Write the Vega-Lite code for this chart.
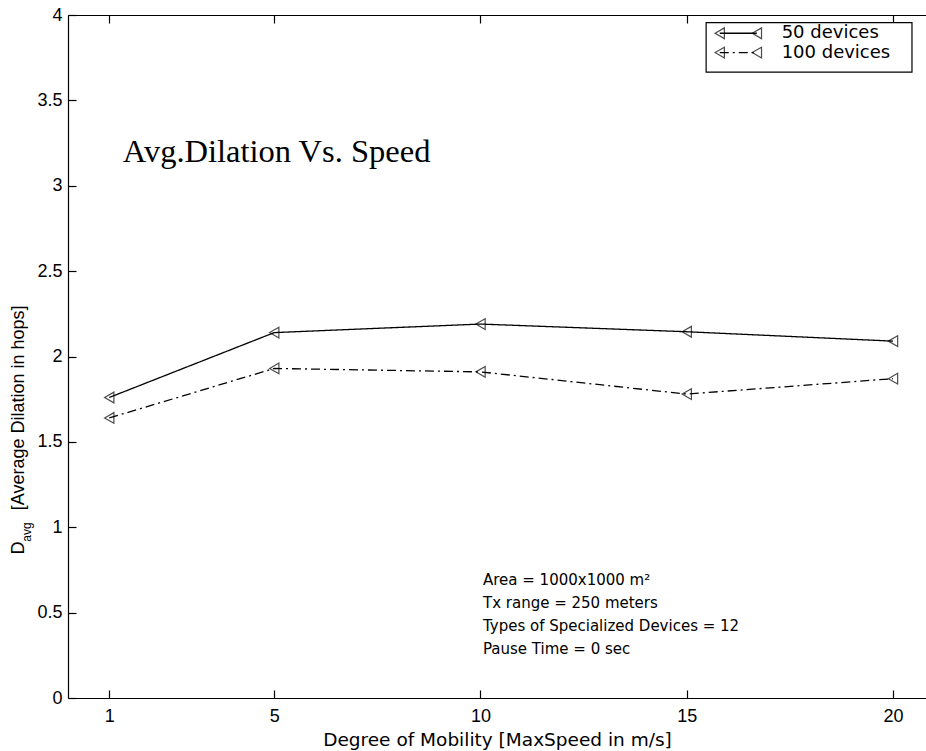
{
  "$schema": "https://vega.github.io/schema/vega-lite/v6.json",
  "width": 858,
  "height": 683,
  "autosize": "none",
  "padding": {"left": 68, "top": 15, "right": 0, "bottom": 53},
  "background": "white",
  "config": {
    "view": {"stroke": null},
    "font": "Liberation Sans",
    "axis": {
      "domainColor": "black", "domainWidth": 1.2, "tickColor": "black", "tickWidth": 1.2,
      "labelColor": "black", "labelFont": "Liberation Sans", "labelFontSize": 18,
      "titleColor": "black", "titleFont": "Liberation Sans", "titleFontWeight": "normal",
      "grid": false
    }
  },
  "datasets": {
    "series": [
      {"speed": 1, "dilation": 1.76, "devices": "50 devices"},
      {"speed": 5, "dilation": 2.14, "devices": "50 devices"},
      {"speed": 10, "dilation": 2.19, "devices": "50 devices"},
      {"speed": 15, "dilation": 2.145, "devices": "50 devices"},
      {"speed": 20, "dilation": 2.09, "devices": "50 devices"},
      {"speed": 1, "dilation": 1.64, "devices": "100 devices"},
      {"speed": 5, "dilation": 1.93, "devices": "100 devices"},
      {"speed": 10, "dilation": 1.91, "devices": "100 devices"},
      {"speed": 15, "dilation": 1.78, "devices": "100 devices"},
      {"speed": 20, "dilation": 1.87, "devices": "100 devices"}
    ],
    "legendLines": [
      {"x": 15.8, "y": 3.893, "devices": "50 devices"},
      {"x": 16.7, "y": 3.893, "devices": "50 devices"},
      {"x": 15.8, "y": 3.78, "devices": "100 devices"},
      {"x": 16.7, "y": 3.78, "devices": "100 devices"}
    ],
    "legendText": [
      {"x": 17.3, "y": 3.893, "label": "50 devices"},
      {"x": 17.3, "y": 3.78, "label": "100 devices"}
    ],
    "legendBox": [{"x": 15.47, "x2": 20.46, "y": 3.955, "y2": 3.666}],
    "notes": [
      {"x": 10.06, "y": 0.69, "label": "Area = 1000x1000 m²"},
      {"x": 10.06, "y": 0.556, "label": "Tx range = 250 meters"},
      {"x": 10.06, "y": 0.42, "label": "Types of Specialized Devices = 12"},
      {"x": 10.06, "y": 0.287, "label": "Pause Time = 0 sec"}
    ],
    "title": [{"x": 1.33, "y": 3.2, "label": "Avg.Dilation Vs. Speed"}],
    "ytitle": [
      {"x": -1.19, "y": 0.84, "label": "D", "size": 18},
      {"x": -0.99, "y": 0.915, "label": "avg", "size": 12},
      {"x": -1.19, "y": 1.1, "label": "[Average Dilation in hops]", "size": 18}
    ]
  },
  "layer": [
    {
      "data": {"name": "legendBox"},
      "mark": {"type": "rect", "fill": "white", "stroke": "black", "strokeWidth": 1.2},
      "encoding": {
        "x": {"field": "x", "type": "quantitative", "scale": {"domain": [0, 20.8], "nice": false, "zero": false},
          "axis": {"values": [1, 5, 10, 15, 20], "tickSize": -8, "labelPadding": 17, "title": "Degree of Mobility [MaxSpeed in m/s]", "titleFont": "DejaVu Sans", "titleFontSize": 18.5, "titlePadding": 5, "labelFlush": false}},
        "x2": {"field": "x2"},
        "y": {"field": "y", "type": "quantitative", "scale": {"domain": [0, 4], "nice": false},
          "axis": {"values": [0, 0.5, 1, 1.5, 2, 2.5, 3, 3.5, 4], "format": "~g", "tickSize": -8, "labelPadding": 14, "title": null, "labelFlush": false}},
        "y2": {"field": "y2"}
      }
    },
    {
      "data": {"name": "series"},
      "mark": {"type": "line", "color": "black", "strokeWidth": 1.3},
      "encoding": {
        "x": {"field": "speed", "type": "quantitative",
          "axis": {"orient": "top", "values": [1, 5, 10, 15, 20], "tickSize": -8, "labels": false, "title": null}},
        "y": {"field": "dilation", "type": "quantitative"},
        "detail": {"field": "devices"},
        "strokeDash": {"field": "devices", "type": "nominal", "scale": {"domain": ["50 devices", "100 devices"], "range": [[1, 0], [9, 4, 2, 4]]}, "legend": null}
      }
    },
    {
      "data": {"name": "series"},
      "mark": {"type": "point", "shape": "triangle-left", "filled": false, "color": "black", "size": 115, "strokeWidth": 1.2},
      "encoding": {
        "x": {"field": "speed", "type": "quantitative", "axis": null},
        "y": {"field": "dilation", "type": "quantitative"}
      }
    },
    {
      "data": {"name": "legendLines"},
      "mark": {"type": "line", "color": "black", "strokeWidth": 1.3},
      "encoding": {
        "x": {"field": "x", "type": "quantitative", "axis": null},
        "y": {"field": "y", "type": "quantitative"},
        "detail": {"field": "devices"},
        "strokeDash": {"field": "devices", "type": "nominal", "scale": {"domain": ["50 devices", "100 devices"], "range": [[1, 0], [9, 4, 2, 4]]}, "legend": null}
      }
    },
    {
      "data": {"name": "legendLines"},
      "mark": {"type": "point", "shape": "triangle-left", "filled": false, "color": "black", "size": 115, "strokeWidth": 1.2},
      "encoding": {
        "x": {"field": "x", "type": "quantitative", "axis": null},
        "y": {"field": "y", "type": "quantitative"}
      }
    },
    {
      "data": {"name": "legendText"},
      "mark": {"type": "text", "align": "left", "baseline": "middle", "fontSize": 18, "font": "DejaVu Sans", "color": "black"},
      "encoding": {
        "x": {"field": "x", "type": "quantitative", "axis": null},
        "y": {"field": "y", "type": "quantitative"},
        "text": {"field": "label"}
      }
    },
    {
      "data": {"name": "notes"},
      "mark": {"type": "text", "align": "left", "baseline": "middle", "fontSize": 15, "font": "DejaVu Sans", "color": "black"},
      "encoding": {
        "x": {"field": "x", "type": "quantitative", "axis": null},
        "y": {"field": "y", "type": "quantitative"},
        "text": {"field": "label"}
      }
    },
    {
      "data": {"name": "title"},
      "mark": {"type": "text", "align": "left", "baseline": "middle", "fontSize": 32.5, "font": "Liberation Serif", "color": "black"},
      "encoding": {
        "x": {"field": "x", "type": "quantitative", "axis": null},
        "y": {"field": "y", "type": "quantitative"},
        "text": {"field": "label"}
      }
    },
    {
      "data": {"name": "ytitle"},
      "mark": {"type": "text", "align": "left", "baseline": "middle", "angle": 270, "font": "Liberation Sans", "color": "black"},
      "encoding": {
        "x": {"field": "x", "type": "quantitative", "axis": null},
        "y": {"field": "y", "type": "quantitative"},
        "text": {"field": "label"},
        "size": {"field": "size", "type": "quantitative", "scale": null}
      }
    }
  ],
  "resolve": {"axis": {"x": "independent"}}
}
